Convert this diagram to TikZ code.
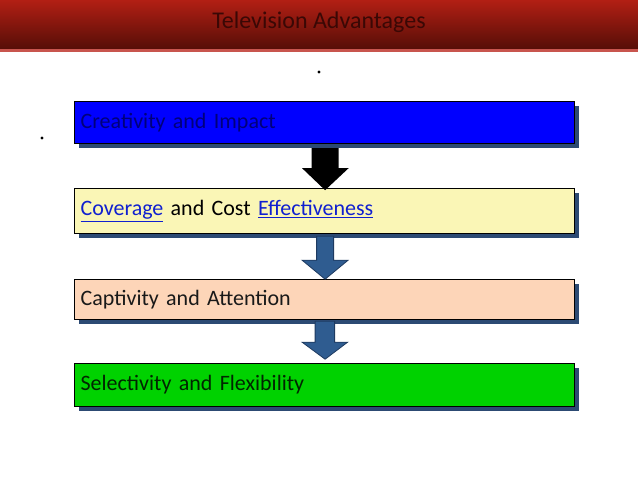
\documentclass[tikz,border=0pt]{standalone}
\usepackage{fontspec}
\setmainfont{Carlito}
\usetikzlibrary{calc}
\definecolor{hdrtop}{HTML}{B21F14}
\definecolor{hdrbot}{HTML}{560E07}
\definecolor{hdrline}{HTML}{C8554E}
\definecolor{titletext}{HTML}{3A0805}
\definecolor{shadowc}{HTML}{2C4A73}
\definecolor{boxblue}{HTML}{0000FF}
\definecolor{boxyellow}{HTML}{FAF6B6}
\definecolor{boxpeach}{HTML}{FDD5B8}
\definecolor{boxgreen}{HTML}{00D200}
\definecolor{arrowblue}{HTML}{2F5C90}
\definecolor{arrowedge}{HTML}{1E3A60}
\definecolor{linkblue}{HTML}{1020D0}
\definecolor{navytext}{HTML}{00007A}
\tikzset{
  x=1pt,y=-1pt,
  stepbox/.style={draw=black,line width=1.2pt,minimum width=500pt,minimum height=42pt,
    anchor=north west,inner sep=0pt,text width=494pt,align=left,
    font=\fontsize{22}{24}\selectfont,
    preaction={fill=shadowc,draw=none,transform canvas={shift={(4pt,-4pt)}}}},
  bigarrow/.style={line width=0.8pt},
}
\newcommand{\lnk}[1]{{\color{linkblue}\underline{#1}}}
\begin{document}
\begin{tikzpicture}
\useasboundingbox (0,0) rectangle (638,479);
\fill[white] (0,0) rectangle (638,479);
% header
\shade[top color=hdrtop,bottom color=hdrbot] (0,0) rectangle (638,49);
\fill[hdrline] (0,49) rectangle (638,52);
\node[font=\fontsize{24}{26}\selectfont,text=titletext] (title) at (319,22) {Television Advantages};
% dots
\fill (319,72) circle (1.6);
\fill (42,138) circle (1.6);
% boxes
\node[stepbox,fill=boxblue,text=navytext] (b1) at (74,101) {\hspace*{3pt}Creativity and Impact};
\node[stepbox,fill=boxyellow,minimum height=45pt] (b2) at (74,188) {\hspace*{3pt}\lnk{Coverage} and Cost \lnk{Effectiveness}};
\node[stepbox,fill=boxpeach,text=black!90,minimum height=40pt] (b3) at (74,279) {\hspace*{3pt}Captivity and Attention};
\node[stepbox,fill=boxgreen,text=black!85!green,minimum height=43pt] (b4) at (74,363) {\hspace*{3pt}Selectivity and Flexibility};
% arrows
\fill[black] ($(b1.south)+(0.5,4)$) -- ++(13.5,0) -- ++(0,20) -- ++(10,0) -- ++(-23.5,22)
  -- ++(-23,-22) -- ++(9.5,0) -- ++(0,-20) -- cycle;
\draw[bigarrow,fill=arrowblue,draw=arrowedge] ($(b2.south)+(0.5,2)$) -- ++(8.5,0) -- ++(0,24) -- ++(14.5,0) -- ++(-23,19)
  -- ++(-23,-19) -- ++(14.5,0) -- ++(0,-24) -- cycle;
\draw[bigarrow,fill=arrowblue,draw=arrowedge] ($(b3.south)+(0.5,1)$) -- ++(9.5,0) -- ++(0,21) -- ++(13,0) -- ++(-22.5,17)
  -- ++(-23,-17) -- ++(13,0) -- ++(0,-21) -- cycle;
\end{tikzpicture}
\end{document}
